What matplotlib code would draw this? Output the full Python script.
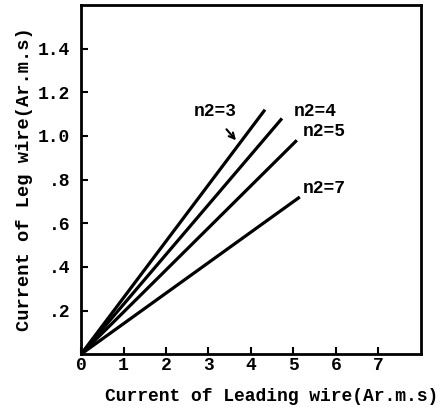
import matplotlib
matplotlib.use("Agg")
import matplotlib.pyplot as plt

# each curve is a straight line from the origin
labels = ["n2=3", "n2=4", "n2=5", "n2=7"]
x_end = [4.33, 4.73, 5.08, 5.15]
y_end = [1.12, 1.08, 0.98, 0.72]

xticks = [0, 1, 2, 3, 4, 5, 6, 7]
yticks = [0.2, 0.4, 0.6, 0.8, 1.0, 1.2, 1.4]
ytick_labels = [".2", ".4", ".6", ".8", "1.0", "1.2", "1.4"]

font = {"family": "Liberation Mono", "weight": "bold"}

fig = plt.figure(figsize=(4.43, 4.09), dpi=100)
ax = fig.add_axes([0.183, 0.134, 0.767, 0.854])

for xe, ye in zip(x_end, y_end):
    ax.plot([0, xe], [0, ye], color="black", lw=2.3, solid_capstyle="butt")

ax.set_xlim(0, 8)
ax.set_ylim(0, 1.6)
ax.set_xticks(xticks)
ax.set_xticklabels([str(t) for t in xticks], fontdict=font, fontsize=13)
ax.set_yticks(yticks)
ax.set_yticklabels(ytick_labels, fontdict=font, fontsize=13)
ax.tick_params(direction="in", length=5, width=1.5)
ax.tick_params(axis="x", pad=2)
ax.tick_params(axis="y", pad=8)

for s in ax.spines.values():
    s.set_linewidth(2)

ax.set_xlabel("Current of Leading wire(Ar.m.s)", fontdict=font, fontsize=13)
ax.set_ylabel("Current of Leg wire(Ar.m.s)", fontdict=font, fontsize=13.5)
ax.xaxis.set_label_coords(0.56, -0.097)
ax.yaxis.set_label_coords(-0.142, 0.5)

# curve labels
ax.text(2.65, 1.11, labels[0], fontdict=font, fontsize=13, va="center", ha="left")
ax.annotate("", xy=(3.69, 0.97), xytext=(3.38, 1.04),
            arrowprops=dict(arrowstyle="->", color="black", lw=1.5))
ax.text(5.0, 1.11, labels[1], fontdict=font, fontsize=13, va="center", ha="left")
ax.text(5.22, 1.02, labels[2], fontdict=font, fontsize=13, va="center", ha="left")
ax.text(5.22, 0.76, labels[3], fontdict=font, fontsize=13, va="center", ha="left")

fig.savefig("out.png", dpi=100)
